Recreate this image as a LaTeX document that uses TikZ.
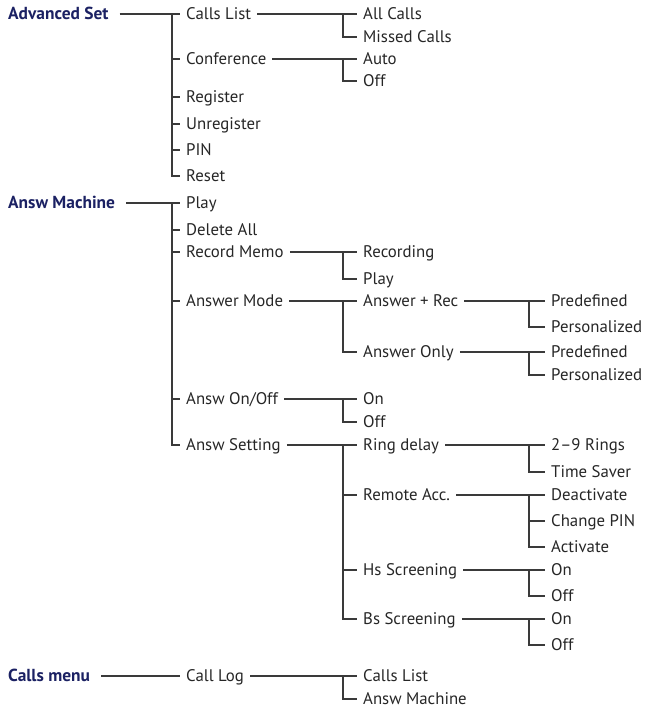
\documentclass[tikz,border=0pt]{standalone}
\usepackage{fontspec}
\setmainfont{PT Sans}
\definecolor{menublue}{HTML}{1B2163}
\definecolor{linegray}{HTML}{3A3A3A}

\begin{document}
\begin{tikzpicture}[
		x=1pt, y=-1pt,
		every node/.style={anchor=west, inner xsep=6pt, inner ysep=0pt, text height=11.8pt, text depth=0pt, font=\fontsize{16.8}{18}\selectfont, text=black!85},
		menu/.style={font=\fontsize{17.4}{19}\selectfont\bfseries, text=menublue, inner xsep=11pt},
		conn/.style={draw=linegray, line width=1.1pt}
		]
		\useasboundingbox (0,0) rectangle (646,710);
		\coordinate (t1) at (172,0);
		\coordinate (t2) at (343,0);
		\coordinate (t3) at (529,0);

		% Advanced Set
		\node[menu] (advset) at (-3,14) {Advanced Set};
		\node (callslist) at (180,14) {Calls List};
		\node (allcalls) at (357,14) {All Calls};
		\node (missed) at (357,37) {Missed Calls};
		\node (conf) at (180,59) {Conference};
		\node (auto) at (357,59) {Auto};
		\node (confoff) at (357,81) {Off};
		\node (register) at (180,97) {Register};
		\node (unregister) at (180,124) {Unregister};
		\node (pin) at (180,150) {PIN};
		\node (reset) at (180,176) {Reset};

		\draw[conn] (advset.east) -- (callslist.west);
		\draw[conn] (t1 |- callslist.west) |- (reset.west);
		\draw[conn] (t1 |- conf.west) -- (conf.west);
		\draw[conn] (t1 |- register.west) -- (register.west);
		\draw[conn] (t1 |- unregister.west) -- (unregister.west);
		\draw[conn] (t1 |- pin.west) -- (pin.west);
		\draw[conn] (callslist.east) -- (allcalls.west);
		\draw[conn] (t2 |- allcalls.west) |- (missed.west);
		\draw[conn] (conf.east) -- (auto.west);
		\draw[conn] (t2 |- auto.west) |- (confoff.west);

		% Answ Machine
		\node[menu] (answm) at (-3,203) {Answ Machine};
		\node (play) at (180,203) {Play};
		\node (delall) at (180,230) {Delete All};
		\node (recmemo) at (180,252) {Record Memo};
		\node (recording) at (357,252) {Recording};
		\node (memoplay) at (357,279) {Play};
		\node (answmode) at (180,301) {Answer Mode};
		\node (ansrec) at (357,301) {Answer + Rec};
		\node (recpre) at (545,301) {Predefined};
		\node (recpers) at (545,327) {Personalized};
		\node (ansonly) at (357,352) {Answer Only};
		\node (onlypre) at (545,352) {Predefined};
		\node (onlypers) at (545,375) {Personalized};
		\node (answonoff) at (180,399) {Answ On/Off};
		\node (answon) at (357,399) {On};
		\node (answoff) at (357,422) {Off};
		\node (answset) at (180,445) {Answ Setting};
		\node (ringdelay) at (357,445) {Ring delay};
		\node (rings) at (545,445) {2--9 Rings};
		\node (timesaver) at (545,472) {Time Saver};
		\node (remote) at (357,495) {Remote Acc.};
		\node (deact) at (545,495) {Deactivate};
		\node (chpin) at (545,521) {Change PIN};
		\node (act) at (545,547) {Activate};
		\node (hsscr) at (357,570) {Hs Screening};
		\node (hson) at (545,570) {On};
		\node (hsoff) at (545,596) {Off};
		\node (bsscr) at (357,619) {Bs Screening};
		\node (bson) at (545,619) {On};
		\node (bsoff) at (545,645) {Off};

		\draw[conn] (answm.east) -- (play.west);
		\draw[conn] (t1 |- play.west) |- (answset.west);
		\draw[conn] (t1 |- delall.west) -- (delall.west);
		\draw[conn] (t1 |- recmemo.west) -- (recmemo.west);
		\draw[conn] (t1 |- answmode.west) -- (answmode.west);
		\draw[conn] (t1 |- answonoff.west) -- (answonoff.west);
		\draw[conn] (recmemo.east) -- (recording.west);
		\draw[conn] (t2 |- recording.west) |- (memoplay.west);
		\draw[conn] (answmode.east) -- (ansrec.west);
		\draw[conn] (t2 |- ansrec.west) |- (ansonly.west);
		\draw[conn] (ansrec.east) -- (recpre.west);
		\draw[conn] (t3 |- recpre.west) |- (recpers.west);
		\draw[conn] (ansonly.east) -- (onlypre.west);
		\draw[conn] (t3 |- onlypre.west) |- (onlypers.west);
		\draw[conn] (answonoff.east) -- (answon.west);
		\draw[conn] (t2 |- answon.west) |- (answoff.west);
		\draw[conn] (answset.east) -- (ringdelay.west);
		\draw[conn] (t2 |- ringdelay.west) |- (bsscr.west);
		\draw[conn] (t2 |- remote.west) -- (remote.west);
		\draw[conn] (t2 |- hsscr.west) -- (hsscr.west);
		\draw[conn] (ringdelay.east) -- (rings.west);
		\draw[conn] (t3 |- rings.west) |- (timesaver.west);
		\draw[conn] (remote.east) -- (deact.west);
		\draw[conn] (t3 |- deact.west) |- (act.west);
		\draw[conn] (t3 |- chpin.west) -- (chpin.west);
		\draw[conn] (hsscr.east) -- (hson.west);
		\draw[conn] (t3 |- hson.west) |- (hsoff.west);
		\draw[conn] (bsscr.east) -- (bson.west);
		\draw[conn] (t3 |- bson.west) |- (bsoff.west);

		% Calls menu
		\node[menu] (callsmenu) at (-3,676) {Calls menu};
		\node (calllog) at (180,676) {Call Log};
		\node (logcalls) at (357,676) {Calls List};
		\node (logansw) at (357,699) {Answ Machine};

		\draw[conn] (callsmenu.east) -- (calllog.west);
		\draw[conn] (calllog.east) -- (logcalls.west);
		\draw[conn] (t2 |- logcalls.west) |- (logansw.west);
	\end{tikzpicture}
\end{document}
